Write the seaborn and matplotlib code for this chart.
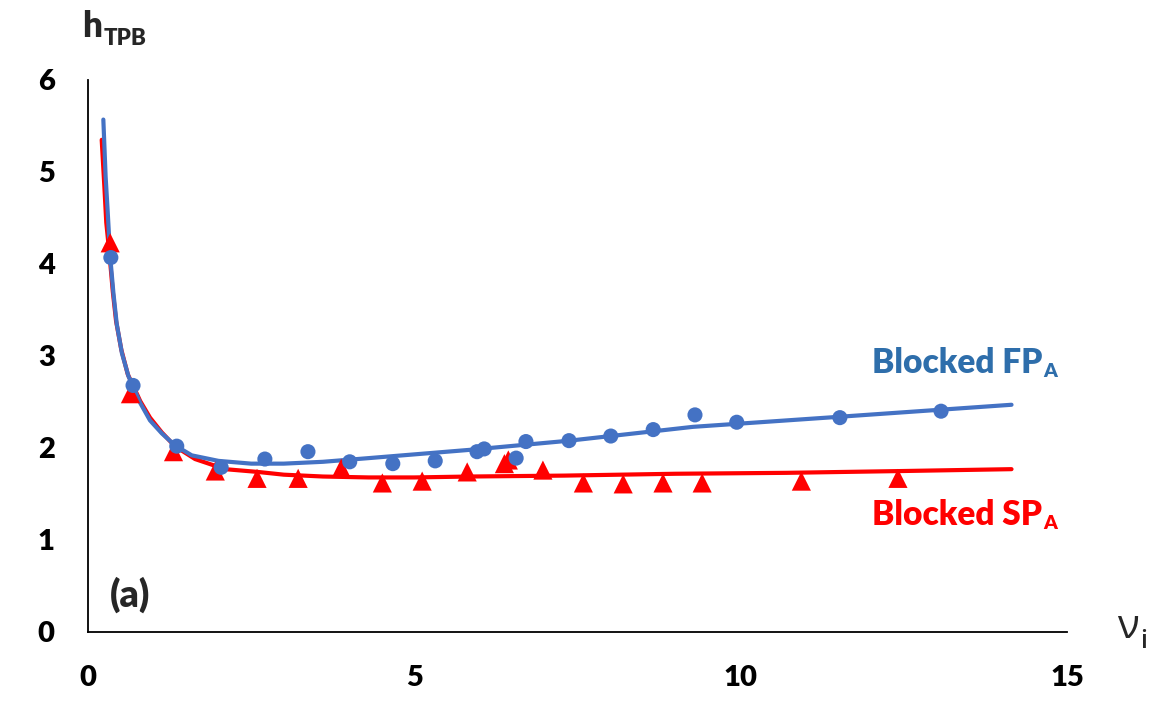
import matplotlib
matplotlib.use("Agg")
import matplotlib.pyplot as plt
import seaborn as sns

# measured points, Blocked FP_A (circles)
fp_x = [0.35, 0.69, 1.36, 2.04, 2.71, 3.37, 4.01, 4.67, 5.32, 5.96,
        6.07, 6.56, 6.71, 7.37, 8.01, 8.66, 9.30, 9.94, 11.52, 13.07]
fp_y = [4.07, 2.68, 2.02, 1.79, 1.88, 1.96, 1.85, 1.83, 1.86, 1.96,
        1.99, 1.89, 2.07, 2.08, 2.13, 2.20, 2.36, 2.28, 2.33, 2.40]

# measured points, Blocked SP_A (triangles)
sp_x = [0.34, 0.65, 1.31, 1.95, 2.59, 3.22, 3.88, 4.51, 5.12, 5.81,
        6.38, 6.44, 6.97, 7.59, 8.20, 8.81, 9.41, 10.93, 12.41]
sp_y = [4.23, 2.59, 1.96, 1.75, 1.67, 1.67, 1.78, 1.62, 1.64, 1.74,
        1.83, 1.87, 1.76, 1.62, 1.61, 1.62, 1.62, 1.64, 1.67]

# model curves
fp_curve_x = [0.235, 0.27, 0.30, 0.34, 0.39, 0.44, 0.52, 0.62, 0.69, 0.80,
              0.95, 1.13, 1.33, 1.59, 2.0, 2.5, 3.0, 3.6, 4.3, 5.85,
              7.38, 9.27, 11.32, 14.15]
fp_curve_y = [5.57, 4.95, 4.59, 4.08, 3.68, 3.35, 3.03, 2.78, 2.67, 2.49,
              2.30, 2.16, 2.03, 1.92, 1.86, 1.83, 1.83, 1.85, 1.89, 1.98,
              2.08, 2.23, 2.33, 2.47]

sp_curve_x = [0.21, 0.25, 0.28, 0.33, 0.38, 0.43, 0.51, 0.61, 0.69, 0.80,
              0.95, 1.13, 1.33, 1.64, 2.1, 2.6, 3.0, 3.6, 4.3, 5.0,
              5.85, 7.3, 9.0, 10.7, 12.5, 14.15]
sp_curve_y = [5.35, 4.85, 4.45, 4.10, 3.70, 3.38, 3.07, 2.80, 2.68, 2.51,
              2.33, 2.17, 2.02, 1.88, 1.77, 1.74, 1.71, 1.69, 1.68, 1.68,
              1.69, 1.70, 1.72, 1.73, 1.75, 1.77]

x_ticks = [0, 5, 10, 15]
y_ticks = [0, 1, 2, 3, 4, 5, 6]

BLUE = "#4472C4"
RED = "#FF0000"
BLUE_TEXT = "#2E6EAB"

sns.set_style("white")
plt.rcParams["font.family"] = ["Lato", "DejaVu Sans"]
plt.rcParams["font.weight"] = "bold"

fig = plt.figure(figsize=(11.51, 7.02), dpi=100)
ax = fig.add_axes([88 / 1151, 70 / 702, 979 / 1151, 552 / 702])

# curves first, markers on top
sns.lineplot(x=sp_curve_x, y=sp_curve_y, color=RED, lw=3.0, sort=False,
             estimator=None, ax=ax, solid_capstyle="round", zorder=2)
sns.lineplot(x=fp_curve_x, y=fp_curve_y, color=BLUE, lw=3.0, sort=False,
             estimator=None, ax=ax, solid_capstyle="round", zorder=2)
sns.scatterplot(x=sp_x, y=sp_y, marker="^", s=190, color=RED,
                edgecolor="none", ax=ax, zorder=3)
sns.scatterplot(x=fp_x, y=fp_y, marker="o", s=118, color=BLUE,
                edgecolor="none", ax=ax, zorder=4)

ax.set_xlim(0, 15)
ax.set_ylim(0, 6)
ax.set_xticks(x_ticks)
ax.set_yticks(y_ticks)
ax.set_xlabel("")
ax.set_ylabel("")
sns.despine(ax=ax)
for side in ["left", "bottom"]:
    ax.spines[side].set_color("black")
    ax.spines[side].set_linewidth(1.3)
ax.tick_params(direction="in", length=7.5, width=1.3, color="black",
               pad=24, labelsize=21, labelcolor="black")
for lab in ax.get_xticklabels() + ax.get_yticklabels():
    lab.set_fontweight("heavy")

# axis titles with subscripts
h = ax.text(-0.09, 6.47, "h", fontsize=25, fontweight="heavy",
            va="baseline", ha="left", clip_on=False)
ax.annotate("TPB", xy=(1, 0), xycoords=h, xytext=(1.5, -1.5),
            textcoords="offset points", fontsize=16, fontweight="heavy",
            va="baseline", ha="left")

nu = ax.text(15.77, -0.065, "\u03bd", fontsize=29, fontweight="normal",
             family=["Open Sans", "DejaVu Sans"], va="baseline", ha="left",
             clip_on=False)
ax.annotate("i", xy=(1, 0), xycoords=nu, xytext=(0.5, 0),
            textcoords="offset points", fontsize=18, fontweight="semibold",
            family=["Open Sans", "DejaVu Sans"], va="baseline", ha="left")

# series labels
fp_lab = ax.text(12.01, 2.815, "Blocked FP", fontsize=24, fontweight="heavy",
                 color=BLUE_TEXT, va="baseline", ha="left")
ax.annotate("A", xy=(1, 0), xycoords=fp_lab, xytext=(1, 1.5),
            textcoords="offset points", fontsize=14, fontweight="heavy",
            color=BLUE_TEXT, va="baseline", ha="left")

sp_lab = ax.text(12.01, 1.163, "Blocked SP", fontsize=24, fontweight="heavy",
                 color=RED, va="baseline", ha="left")
ax.annotate("A", xy=(1, 0), xycoords=sp_lab, xytext=(1, 1.5),
            textcoords="offset points", fontsize=14, fontweight="heavy",
            color=RED, va="baseline", ha="left")

ax.text(0.34, 0.27, "(a)", fontsize=27, fontweight="heavy",
        va="baseline", ha="left")

fig.savefig("out.png", dpi=100)
